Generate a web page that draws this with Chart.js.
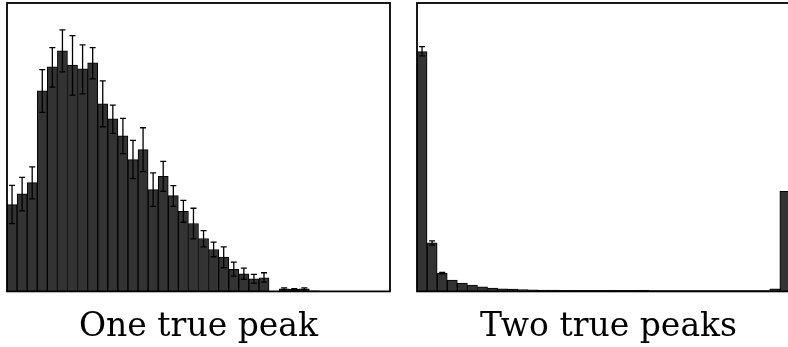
<!DOCTYPE html>
<html>
<head>
<meta charset="utf-8">
<script src="https://cdn.jsdelivr.net/npm/chart.js@4/dist/chart.umd.min.js"></script>
<style>
  html, body { margin: 0; padding: 0; background: #fff; overflow: hidden; width: 788px; height: 347px; }
  #left-chart { position: absolute; left: 0; top: 0; }
  #right-chart { position: absolute; left: 410px; top: 0; }
</style>
</head>
<body>
<canvas id="left-chart" width="397" height="347"></canvas>
<canvas id="right-chart" width="397" height="347"></canvas>
<script>
// 38 histogram bins per panel
const binLabels = Array.from({ length: 38 }, (_, i) => String(i + 1));

// "One true peak" histogram, with lower/upper ends of the error bars
const onePeakCounts = [87, 97.7, 109, 201, 225, 241, 226.7, 223, 229, 188, 173, 156, 132, 142, 102, 115.3, 96, 80.3, 68, 53,
  42, 34.3, 22, 17.7, 12.7, 13.7, 0, 2.5, 2, 2.5, 0.5, 0, 0, 0, 0, 0, 0, 0];
const onePeakErrLow = [68, 80.7, 92.7, 179.3, 204.7, 220, 196.7, 198, 213, 165, 158.3, 138, 113, 120, 85.3, 100.3, 85.3, 69.3, 52.7, 44.7,
  34.7, 23.7, 15.3, 12, 8.3, 9.3, null, 1.5, 1.2, 1.5, null, null, null, null, null, null, null, null];
const onePeakErrHigh = [106.3, 114.3, 124.7, 222.3, 244.3, 262, 256.3, 247, 244.3, 211, 186.7, 173.3, 151.3, 164, 118.7, 130.3, 106, 91.3, 83.3, 61,
  49.3, 44.7, 29.3, 23.3, 17, 18.7, null, 3.5, 2.8, 3.5, null, null, null, null, null, null, null, null];

// "Two true peaks" histogram
const twoPeakCounts = [240.3, 48.7, 18.3, 11.3, 8.3, 6.3, 4.7, 3.3, 2.7, 2.2, 1.8, 1.5, 1.3, 1.2, 1.1, 1.1, 1, 1, 1, 1,
  1, 1, 1, 0.9, 0.9, 0.9, 0.9, 0.9, 0.9, 0.9, 0.9, 0.9, 0.9, 0.9, 0.9, 2.5, 100.3, 0];
const twoPeakErrLow = [236, 46.3, 17.6, null, null, null, null, null, null, null, null, null, null, null, null, null, null, null, null, null,
  null, null, null, null, null, null, null, null, null, null, null, null, null, null, null, null, null, null];
const twoPeakErrHigh = [245.3, 50.7, 19, null, null, null, null, null, null, null, null, null, null, null, null, null, null, null, null, null,
  null, null, null, null, null, null, null, null, null, null, null, null, null, null, null, null, null, null];

const yMax = 289;

// draws error bars from the low/high arrays, and a box around the plot area
const errorBarPlugin = {
  id: "errorBars",
  afterDatasetsDraw(chart, args, opts) {
    const ctx = chart.ctx;
    const meta = chart.getDatasetMeta(0);
    const yScale = chart.scales.y;
    ctx.save();
    ctx.strokeStyle = "#000";
    ctx.lineWidth = 1.3;
    meta.data.forEach((bar, i) => {
      const lo = opts.low[i];
      const hi = opts.high[i];
      if (lo == null || hi == null) return;
      const yLo = yScale.getPixelForValue(lo);
      const yHi = yScale.getPixelForValue(hi);
      ctx.beginPath();
      ctx.moveTo(bar.x, yLo);
      ctx.lineTo(bar.x, yHi);
      ctx.moveTo(bar.x - 3, yLo);
      ctx.lineTo(bar.x + 3, yLo);
      ctx.moveTo(bar.x - 3, yHi);
      ctx.lineTo(bar.x + 3, yHi);
      ctx.stroke();
    });
    ctx.restore();
  },
  afterDraw(chart) {
    const { ctx, chartArea } = chart;
    ctx.save();
    ctx.strokeStyle = "#000";
    ctx.lineWidth = 1.8;
    ctx.strokeRect(chartArea.left, chartArea.top, chartArea.right - chartArea.left, chartArea.bottom - chartArea.top);
    ctx.restore();
  }
};

function makeHistogram(canvasId, title, counts, errLow, errHigh) {
  return new Chart(document.getElementById(canvasId), {
    type: "bar",
    data: {
      labels: binLabels,
      datasets: [{
        data: counts,
        backgroundColor: "#333333",
        borderColor: "#000000",
        borderWidth: 1,
        categoryPercentage: 1,
        barPercentage: 1
      }]
    },
    options: {
      responsive: false,
      animation: false,
      devicePixelRatio: 1,
      layout: { padding: { left: 7, right: 7, top: 3, bottom: 0 } },
      scales: {
        x: { display: false },
        y: { display: false, min: 0, max: yMax }
      },
      plugins: {
        legend: { display: false },
        tooltip: { enabled: false },
        title: {
          display: true,
          text: title,
          position: "bottom",
          color: "#000",
          font: { family: "'DejaVu Serif', serif", size: 33, weight: "normal", lineHeight: 1.2 },
          padding: { top: 16, bottom: 0 }
        },
        errorBars: { low: errLow, high: errHigh }
      }
    },
    plugins: [errorBarPlugin]
  });
}

makeHistogram("left-chart", "One true peak", onePeakCounts, onePeakErrLow, onePeakErrHigh);
makeHistogram("right-chart", "Two true peaks", twoPeakCounts, twoPeakErrLow, twoPeakErrHigh);
</script>
</body>
</html>
